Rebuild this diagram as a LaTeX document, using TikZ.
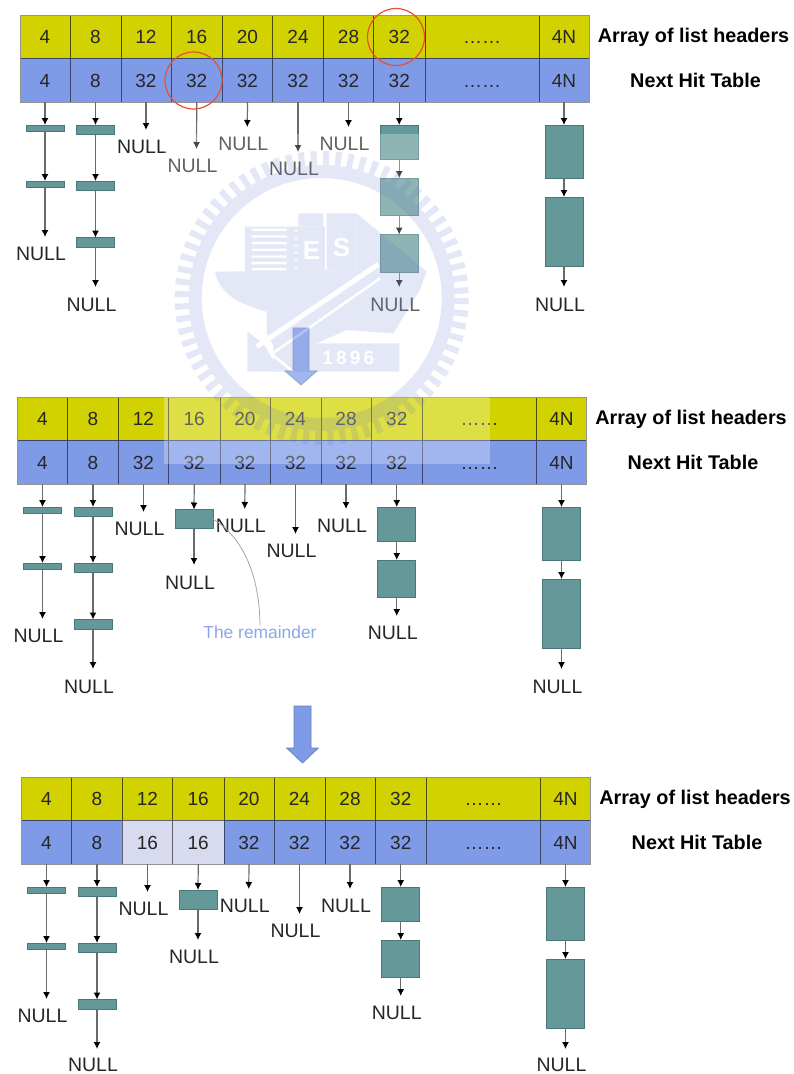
\documentclass[tikz,border=0pt]{standalone}
\usepackage{fontspec}
\setmainfont{Liberation Sans}
\usetikzlibrary{arrows.meta}
\definecolor{cyel}{HTML}{D2D200}
\definecolor{cblu}{HTML}{7F9BE8}
\definecolor{cpale}{HTML}{D8DAF0}
\definecolor{cteal}{HTML}{659999}
\definecolor{ctealb}{HTML}{4A7778}
\definecolor{cink}{HTML}{262626}
\definecolor{cline}{HTML}{6A6A6A}
\definecolor{cred}{HTML}{E8502F}
\definecolor{cwm}{HTML}{5F78CD}
\definecolor{crem}{HTML}{8CA6EC}
\tikzset{
  tcell/.style={line width=.7pt,inner sep=0pt,outer sep=0pt,anchor=north west,
    text=cink,font=\fontsize{19}{22}\selectfont,text height=14pt,text depth=0pt,align=center},
  lnode/.style={draw=ctealb,fill=cteal,line width=.9pt,inner sep=0pt,outer sep=0pt,anchor=north,minimum width=38pt},
  nulltxt/.style={text=cink,font=\fontsize{19.5}{22}\selectfont,inner sep=0pt},
  link/.style={draw=cline,line width=1.2pt,-{Latex[length=7pt,width=7pt,color=black]}},
  sidelabel/.style={text=black,font=\bfseries\fontsize{19.8}{22}\selectfont,inner sep=0pt},
  bigarrow/.style={fill=cblu,draw=cblu!80!black,line width=.6pt},
  ringmark/.style={draw=cred,line width=1.2pt,fill=none,circle,minimum size=57pt,inner sep=0pt},
  wmshape/.style={fill=cwm,draw=none},
  wmhole/.style={fill=white,draw=none},
  tableframe/.style={draw=black!42,line width=1pt},
}
% #1 text cell 3 #2 fill cell 3 #3 text cell 4 #4 fill cell 4
\newcommand\tablepanel[4]{%
  \foreach \cn/\xa/\xb/\ta/\tb/\fb in {1/20/70/4/4/cblu,2/70/121/8/8/cblu,3/121/171/12/#1/#2,4/171/222.5/16/#3/#4,
     5/222.5/272.5/20/32/cblu,6/272.5/323.5/24/32/cblu,7/323.5/373.5/28/32/cblu,8/373.5/425/32/32/cblu,
     9/425/539/……/……/cblu,10/539/589/4N/4N/cblu}{%
    \pgfmathsetmacro\cellw{\xb-\xa}%
    \node[tcell,draw=cyel!35!black,fill=cyel,minimum width=\cellw pt,minimum height=43.5pt] (t\cn) at (\xa,15) {\ta};
    \node[tcell,draw=\fb!45!black,fill=\fb,minimum width=\cellw pt,minimum height=43.5pt] (b\cn) at (\xa,58.5) {\tb};
  }%
  \draw[tableframe] (t1.north west) rectangle (b10.south east);
  \node[sidelabel] (lab1) at (693.5,37) {Array of list headers};
  \node[sidelabel] (lab2) at (695.5,80.5) {Next Hit Table};
}
\newcommand\Bx[4]{\pgfmathsetmacro\boxh{#4-#3}\node[lnode,minimum height=\boxh pt] (#1) at (#2,#3) {};}
\newcommand\Lk[2]{\draw[link] (#1.south) -- (#2.north);}
\newcommand\Tail[5]{\coordinate (#2-e) at (#3,#4);\node[nulltxt] (#2) at ({#3-4},#5) {NULL};\draw[link] (#1.south) -- (#2-e);}
% lists common to every panel: columns 1, 2, 3, 5, 6, 7, 10
\newcommand\commonlists[1]{%
  \Bx{a1}{45}{125}{131}\Bx{a2}{45}{181}{187}\Lk{b1}{a1}\Lk{a1}{a2}\Tail{a2}{na}{45}{237}{253.5}
  \Bx{c1}{95.5}{125}{134.5}\Bx{c2}{95.5}{181}{190}\Bx{c3}{95.5}{237.5}{247}\Lk{b2}{c1}\Lk{c1}{c2}\Lk{c2}{c3}\Tail{c3}{nc}{95.5}{287}{#1}
  \Tail{b3}{n3}{146}{130}{146.5}
  \Tail{b5}{n5}{247.25}{127}{143.5}
  \Tail{b6}{n6}{298}{152}{168.5}
  \Tail{b7}{n7}{348.5}{127}{143.5}
  \Bx{z1}{564}{125}{178}\Bx{z2}{564}{197}{266}\Lk{b10}{z1}\Lk{z1}{z2}\Tail{z2}{nz}{564}{287}{#1}
}
\begin{document}
\begin{tikzpicture}[x=1pt,y=-1pt]
\useasboundingbox (0,0) rectangle (794,1074);
\fill[white] (0,0) rectangle (794,1074);
% ---- panel 1
\begin{scope}[name prefix=p1-]
  \tablepanel{32}{cblu}{32}{cblu}
  \commonlists{304.5}
  \Tail{b4}{n4}{196.5}{149}{165.5}
  \Bx{d1}{399.25}{125}{159}\Bx{d2}{399.25}{178}{215}\Bx{d3}{399.25}{234.5}{272}
  \Lk{b8}{d1}\Lk{d1}{d2}\Lk{d2}{d3}\Tail{d3}{nd}{399.25}{287}{304.5}
  \node[ringmark] (r1) at (193.5,80.5) {};
  \node[ringmark] (r2) at (396,37) {};
\end{scope}
% ---- arrows between panels
\path[bigarrow] (293,328) -- (309,328) -- (309,371) -- (317,371) -- (301,385) -- (285,371) -- (293,371) -- cycle;
\path[bigarrow] (294,706) -- (311,706) -- (311,748) -- (318.5,748) -- (302.5,763) -- (286.5,748) -- (294,748) -- cycle;
% ---- panel 2
\begin{scope}[shift={(-2.5,382)},name prefix=p2-]
  \tablepanel{32}{cblu}{32}{cblu}
  \commonlists{304.5}
  \Bx{e1}{196.5}{127.5}{146.5}\Lk{b4}{e1}\Tail{e1}{ne}{196.5}{183}{200.5}
  \Bx{d1}{399.25}{125}{159}\Bx{d2}{399.25}{178}{215}
  \Lk{b8}{d1}\Lk{d1}{d2}\Tail{d2}{nd}{399.25}{234}{250.5}
  \node[text=crem,font=\fontsize{17.4}{20}\selectfont,inner sep=0pt] (rem) at (262.5,250) {The remainder};
  \draw[draw=black!35,line width=.8pt] (e1.east) .. controls (242,153) and (262,188) .. (rem.north);
\end{scope}
% ---- panel 3
\begin{scope}[shift={(1.5,762)},name prefix=p3-]
  \tablepanel{16}{cpale}{16}{cpale}
  \commonlists{303}
  \Bx{e1}{196.5}{128}{147}\Lk{b4}{e1}\Tail{e1}{ne}{196.5}{178}{194.5}
  \Bx{d1}{399.25}{125}{159}\Bx{d2}{399.25}{178}{215}
  \Lk{b8}{d1}\Lk{d1}{d2}\Tail{d2}{nd}{399.25}{234}{250.5}
\end{scope}
% ---- watermark lying over panels 1 and 2
\fill[white,opacity=.27] (164,134) rectangle (490,464);
\begin{scope}[transparency group,opacity=.17]
  \draw[cwm,line width=13pt] (321.7,298) circle[radius=126.5];
  \draw[cwm,line width=15pt,dash pattern=on 6pt off 6.2pt] (321.7,298) circle[radius=139.5];
  \begin{scope}[shift={(160,130)},x=.3333pt,y=-.3333pt]
    \fill[wmshape] (255,290) rectangle (495,425);
    \fill[wmshape] (415,250) rectangle (490,290);
    \fill[wmshape] (500,250) rectangle (590,420);
    \fill[wmshape] (165,425) -- (590,420) -- (590,250) -- (800,425) -- (780,480) -- (700,610) -- (560,600)
       -- (470,640) -- (345,655) -- (320,610) -- (320,545) .. controls (250,525) and (180,500) .. (165,425) -- cycle;
    \fill[wmshape] (340,640) rectangle (718,725);
    \fill[wmshape] (262,605) -- (310,640) -- (345,700) -- (345,725) -- (262,725) -- cycle;
    \foreach \ys in {296,316,336,356,376,396,414}{\fill[wmhole] (275,\ys) rectangle (380,{\ys+7});}
    \foreach \ys in {300,322,344,366,388,410}{\fill[wmhole] (404,\ys) rectangle (412,{\ys+5});}
    \draw[white,line width=5pt] (655,403) -- (290,650);
    \draw[white,line width=2.5pt] (660,445) -- (335,672) -- (400,726);
    \node[text=white,font=\bfseries\fontsize{26}{28}\selectfont,inner sep=0pt] (wE) at (455,362) {E};
    \node[text=white,font=\bfseries\fontsize{26}{28}\selectfont,inner sep=0pt] (wS) at (545,352) {S};
    \node[text=white,font=\bfseries\fontsize{19}{22}\selectfont,inner sep=0pt] (wY) at (565,684) {1\,8\,9\,6};
  \end{scope}
\end{scope}
\end{tikzpicture}
\end{document}
